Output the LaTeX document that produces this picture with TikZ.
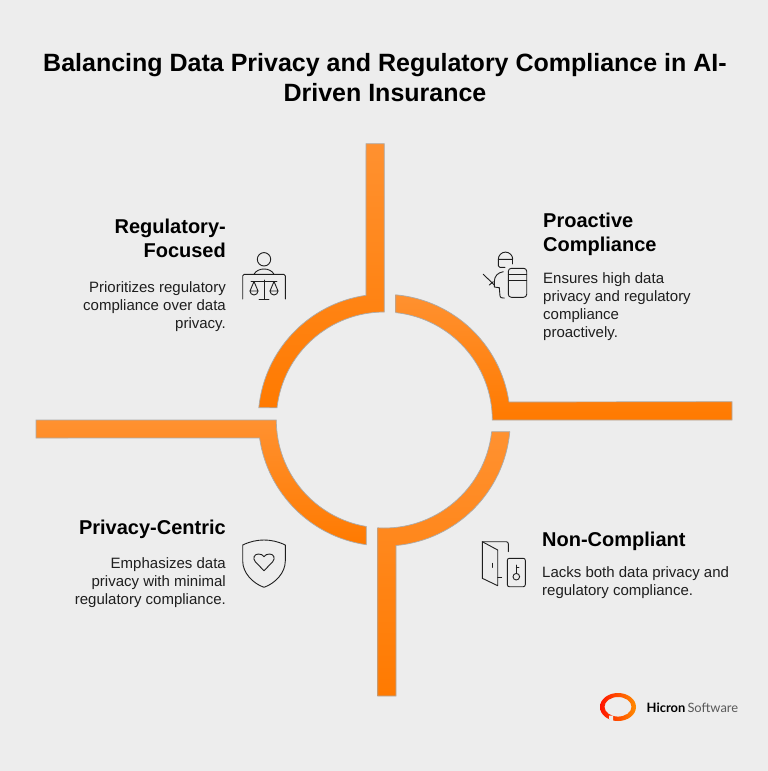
\documentclass[tikz,border=0pt]{standalone}
\usepackage{fontspec}
\setmainfont{Liberation Sans}
\newfontfamily\logofont{Lato}
\usepackage{tikz}

\definecolor{pagegray}{HTML}{EDEDED}
\definecolor{armlight}{HTML}{FF9130}
\definecolor{armdark}{HTML}{FF7A00}
\definecolor{armedge}{HTML}{ABABAB}
\definecolor{inkgray}{HTML}{1E1E1E}

\begin{document}
\begin{tikzpicture}[x=1pt,y=-1pt,
		arm/.style={draw=armedge,line width=0.7pt,top color=armlight,bottom color=armdark},
		icon/.style={draw=inkgray,line width=0.9pt,line cap=round,line join=round},
		head node/.style={font=\fontsize{20}{24}\selectfont\bfseries,inner sep=0pt,text=black},
		body node/.style={font=\fontsize{15}{18}\selectfont,inner sep=0pt,text=inkgray}]
		
		\fill[pagegray] (0,0) rectangle (768,771);
		\useasboundingbox (0,0) rectangle (768,771);
		
		\node[font=\fontsize{25}{30}\selectfont\bfseries,align=center,inner sep=0pt] (title) at (385,77.4)
		{Balancing Data Privacy and Regulatory Compliance in AI-\\Driven Insurance};
		
		% the four arms
		\path[arm] (366,143.7) -- (384.3,143.7) -- (384.3,312) arc[start angle=270,end angle=186.5,radius=108]
		-- (258.8,407.7) arc[start angle=185.6,end angle=261.65,radius=126] -- cycle;
		\path[arm] (395.7,294.8) arc[start angle=275.2,end angle=351.65,radius=126]
		-- (732,401.7) -- (732,420) -- (492.3,420) arc[start angle=360,end angle=276.06,radius=108] -- cycle;
		\path[arm] (509.8,431.7) arc[start angle=5.3,end angle=84.67,radius=126]
		-- (396,696) -- (377.7,696) -- (377.7,527.8) arc[start angle=93.5,end angle=6.2,radius=108] -- cycle;
		\path[arm] (36,420) -- (276.3,420) arc[start angle=180,end angle=99.6,radius=108]
		-- (366.3,544.7) arc[start angle=98.2,end angle=171.8,radius=126] -- (36,438) -- cycle;
		
		% regulatory
		\node[head node,align=right,anchor=base east] (reg) at (226,257.5) {Regulatory-\\Focused};
		\node[body node,align=right,anchor=base east] (regtext) at (226,328) {Prioritizes regulatory\\compliance over data\\privacy.};
		\draw[icon] (264,259.3) circle (6.7);
		\draw[icon] (254,274.3) .. controls (256,270.5) and (260,269) .. (264,269) .. controls (268,269) and (272,270.5) .. (274,274.3);
		\draw[icon,rounded corners=1.5pt] (242.7,299) -- (242.7,274.3) -- (285.3,274.3) -- (285.3,299);
		\draw[icon] (264,280) -- (264,299) (259,299) -- (269,299) (251,281) -- (277,281);
		\foreach \panx in {254,274} {
			\draw[icon] (\panx-4,291) -- (\panx,281.5) -- (\panx+4,291) -- cycle;
			\draw[icon] (\panx-4,291) arc[start angle=180,end angle=0,radius=4];
		}
		
		% proactive
		\node[head node,align=left,anchor=base west] (pro) at (543,251.8) {Proactive\\Compliance};
		\node[body node,align=left,anchor=base west] (protext) at (543,337) {Ensures high data\\privacy and regulatory\\compliance\\proactively.};
		\draw[icon] (498.3,259.3) arc[start angle=180,end angle=360,radius=7.2] (498.3,259.3) -- (512.7,259.3);
		\draw[icon,rounded corners=1.5pt] (512.7,259.3) -- (512.7,264);
		\draw[icon,rounded corners=1.5pt] (498.3,259.3) -- (498.3,267.3) -- (505,267.3);
		\draw[icon,rounded corners=3pt] (508.3,268.3) rectangle (526.7,297.3);
		\draw[icon] (508.3,274.6) -- (526.7,274.6) (508.3,280.7) -- (526.7,280.7);
		\draw[icon] (503.3,271.7) .. controls (498,272.5) and (494.3,276) .. (494.3,281.7) -- (494.3,287) -- (499.3,287.7) -- (500,296) .. controls (500,297.5) and (501,298) .. (504.3,298);
		\draw[icon] (483.3,274.3) -- (494.3,285) (489.3,285) -- (493.3,281.7);
		
		% privacy
		\node[head node,anchor=base east] (priv) at (226,534) {Privacy-Centric};
		\node[body node,align=right,anchor=base east] (privtext) at (226,604) {Emphasizes data\\privacy with minimal\\regulatory compliance.};
		\draw[icon] (242.7,545) .. controls (250,541.5) and (257,540) .. (264,540) .. controls (271,540) and (278,541.5) .. (285.3,545)
		-- (285.3,561) .. controls (285.3,573) and (275,583.5) .. (264,587.3) .. controls (253,583.5) and (242.7,573) .. (242.7,561) -- cycle;
		\draw[icon] (264,570.7) -- (255.5,562) .. controls (252,558) and (254.5,554) .. (258.5,554) .. controls (261,554) and (263,555) .. (264,556.7)
		.. controls (265,555) and (267,554) .. (269.5,554) .. controls (273.5,554) and (276,558) .. (272.5,562) -- cycle;
		
		% non compliant
		\node[head node,anchor=base west] (non) at (542,546) {Non-Compliant};
		\node[body node,align=left,anchor=base west] (nontext) at (542,595) {Lacks both data privacy and\\regulatory compliance.};
		\draw[icon] (482.3,541.7) -- (497.7,550) -- (497.7,585.7) -- (482.3,578.3) -- cycle;
		\draw[icon,rounded corners=2pt] (482.3,541.7) -- (508.3,541.7) -- (508.3,551.7);
		\draw[icon] (497.7,577.3) -- (501.7,577.3) (492.3,563.3) -- (492.3,567.3);
		\draw[icon,rounded corners=2pt] (507.3,558.3) rectangle (525.3,586.7);
		\draw[icon] (516.3,576.7) circle (3.3);
		\draw[icon] (516.3,573.4) -- (516.3,565) (516.3,567.5) -- (519,567.5);
		
		% logo
		\path[even odd rule,left color=red!85!orange,right color=orange!90!yellow]
		(618,707) ellipse [x radius=18,y radius=14] (618,706.8) ellipse [x radius=13.5,y radius=9.8];
		\fill[pagegray] (609,715.5) -- (613,715.5) -- (613,722) -- (609,719) -- cycle;
		\node[anchor=base west,inner sep=0pt,font=\logofont\fontsize{12.9}{14}\selectfont] (logo) at (646.5,712)
		{\textbf{Hicron}\,\textcolor{black!65}{Software}};
		\end{tikzpicture}
\end{document}
